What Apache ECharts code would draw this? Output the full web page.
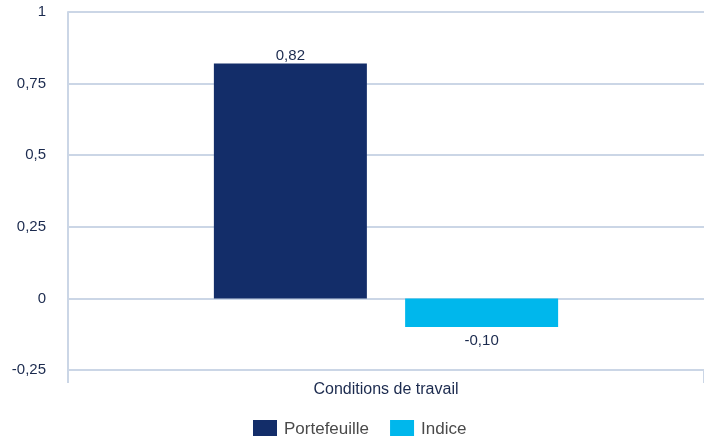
<!DOCTYPE html>
<html>
<head>
<meta charset="utf-8">
<script src="https://cdn.jsdelivr.net/npm/echarts@6/dist/echarts.min.js"></script>
<style>
	html, body { margin: 0; padding: 0; background: #fff; }
	#main { width: 704px; height: 436px; }
</style>
</head>
<body>
<div id="main"></div>
<script>
// données
var categories = ['Conditions de travail'];
var seriesNames = ['Portefeuille', 'Indice'];
var portefeuille = [0.82];
var indice = [-0.10];
var couleurs = ['#132d69', '#00b7ec'];

var texte = '#1b2a4e';
var grille = '#cbd6e6';

function virgule(v, dec) {
	return v.toFixed(dec).replace('.', ',');
}

var myChart = echarts.init(document.getElementById('main'));
var option = {
	animation: false,
	textStyle: { fontFamily: 'Liberation Sans, Arial, sans-serif' },
	// bord droit hors du cadre : pas de trait de graduation a droite
	grid: { left: 68, right: '-2%', top: 12, bottom: 66, containLabel: false },
	legend: {
		top: 415,
		left: 248,
		itemWidth: 24,
		itemHeight: 18,
		itemGap: 21,
		icon: 'rect',
		data: seriesNames,
		textStyle: { color: '#4a4a4a', fontSize: 17, padding: [0, 0, 0, 2] }
	},
	xAxis: {
		type: 'category',
		data: categories,
		splitLine: { show: false },
		axisLine: { onZero: false, lineStyle: { color: grille, width: 2 } },
		axisTick: { show: true, length: 13, lineStyle: { color: grille, width: 2 } },
		axisLabel: { color: texte, fontSize: 16, margin: 12 }
	},
	yAxis: {
		type: 'value',
		min: -0.25,
		max: 1,
		interval: 0.25,
		axisLine: { show: true, lineStyle: { color: grille, width: 2 } },
		axisTick: { show: false },
		splitLine: { lineStyle: { color: grille, width: 2 } },
		axisLabel: {
			color: texte,
			fontSize: 15,
			margin: 22,
			formatter: function (v) {
				if (v === 0 || v === 1) return String(v);
				var s = String(Math.round(v * 100) / 100);
				return s.replace('.', ',');
			}
		}
	},
	series: [
		{
			name: seriesNames[0],
			type: 'bar',
			data: portefeuille,
			barWidth: 153,
			barGap: '25%',
			itemStyle: { color: couleurs[0] },
			label: {
				show: true,
				position: 'top',
				distance: 0,
				color: texte,
				fontSize: 15,
				formatter: function (p) { return virgule(p.value, 2); }
			}
		},
		{
			name: seriesNames[1],
			type: 'bar',
			data: indice,
			barWidth: 153,
			barGap: '25%',
			itemStyle: { color: couleurs[1] },
			label: {
				show: true,
				position: 'bottom',
				distance: 6,
				color: texte,
				fontSize: 15,
				formatter: function (p) { return virgule(p.value, 2); }
			}
		}
	]
};
myChart.setOption(option);
</script>
</body>
</html>
